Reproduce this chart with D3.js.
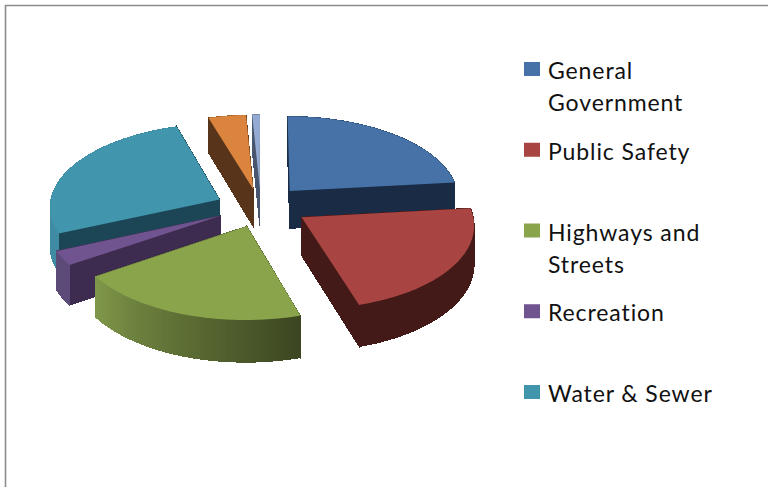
<!DOCTYPE html>
<html><head><meta charset="utf-8">
<script src="https://cdn.jsdelivr.net/npm/d3@7/dist/d3.min.js"></script>
<style>html,body{margin:0;padding:0;background:#fff}svg{display:block}text{font-family:Lato,sans-serif;fill:#111}</style>
</head><body><svg id="c" width="768" height="487"></svg>
<script>
const categories=["General Government","Public Safety","Highways and Streets","Recreation","Water & Sewer","Other A","Other B"];
const shares=[23.3,22,20.3,2.8,26.9,3.9,0.8];
const explosionsX=[0.95,1.05,0.9,1,1,1,1];
const explosionsY=[1.2,1,1.1,1,1,1,1];
const legendLines=[["General","Government"],["Public Safety"],["Highways and","Streets"],["Recreation"],["Water & Sewer"]];
const topColors=["#4672a8","#a84442","#8aa44c","#6f5490","#4195ad","#db843d","#94aad2"];
const wallColors=["#1a2c45","#431a18","#5a6a30","#3e2c50","#1c4656","#58351a","#48556e"];
const arcColors=["#2c4a70","#431a18","#5a6a30","#5c4a78","#3f8ba3","#a0632c","#6f80a0"];

const svg=d3.select("#c");
const W=768,H=487;
svg.append("path").attr("d",d3.line()([[5.5,H],[5.5,5.5],[W,5.5]])).attr("fill","none").attr("stroke","#8c8c8c").attr("stroke-width",1.6);

const cx=261,cy=207,R=170,K=83,P=0.08,depth=38,explodeX=0.27,explodeY=0.22;
const arcs=d3.pie().sort(null).startAngle(0).endAngle(2*Math.PI)(shares);
function proj(u,v,z){const s=1/(1-P*v);return [cx+R*u*s,cy+K*v*s+z*s];}
const line=d3.line();
const order=[6,5,0,4,3,1,2];
const g=svg.append("g");
const greenShade=d3.scaleLinear().domain([0,1]).range(["#3b4520","#80984a"]);
order.forEach(i=>{
  const a=arcs[i],mid=(a.startAngle+a.endAngle)/2;
  const ox=explodeX*explosionsX[i]*Math.sin(mid),oy=-explodeY*explosionsY[i]*Math.cos(mid);
  const pt=(t,r)=>[ox+r*Math.sin(t),oy-r*Math.cos(t)];
  const n=Math.max(4,Math.ceil((a.endAngle-a.startAngle)*50));
  const ts=d3.range(n+1).map(k=>a.startAngle+(a.endAngle-a.startAngle)*k/n);
  const walls=[];
  [a.startAngle,a.endAngle].forEach(t=>{
    const p=pt(t,1),o=pt(t,0);
    walls.push({v:(p[1]+o[1])/2,pts:[proj(o[0],o[1],0),proj(p[0],p[1],0),proj(p[0],p[1],depth),proj(o[0],o[1],depth)],fill:wallColors[i]});
  });
  for(let k=0;k<n;k++){
    const p=pt(ts[k],1),q=pt(ts[k+1],1);
    const f=i===2?greenShade((k+.5)/n):arcColors[i];
    walls.push({v:(p[1]+q[1])/2,pts:[proj(p[0],p[1],0),proj(q[0],q[1],0),proj(q[0],q[1],depth),proj(p[0],p[1],depth)],fill:f});
  }
  walls.sort((x,y)=>x.v-y.v).forEach(w=>{
    g.append("path").attr("d",line(w.pts)+"Z").attr("fill",w.fill).attr("stroke",w.fill).attr("stroke-width",1).attr("shape-rendering","crispEdges");
  });
  const top=[proj(ox,oy,0)].concat(ts.map(t=>{const p=pt(t,1);return proj(p[0],p[1],0);}));
  g.append("path").attr("d",line(top)+"Z").attr("fill",topColors[i]);
});

const yScale=d3.scalePoint().domain(d3.range(legendLines.length)).range([69,392]);
const leg=svg.append("g");
legendLines.forEach((ls,i)=>{
  leg.append("rect").attr("x",524).attr("y",yScale(i)-7).attr("width",16).attr("height",14).attr("fill",topColors[i]);
  ls.forEach((s,j)=>leg.append("text").attr("x",548).attr("y",yScale(i)+10+j*32).attr("font-size",23).attr("letter-spacing",0.9).text(s));
});
</script></body></html>
